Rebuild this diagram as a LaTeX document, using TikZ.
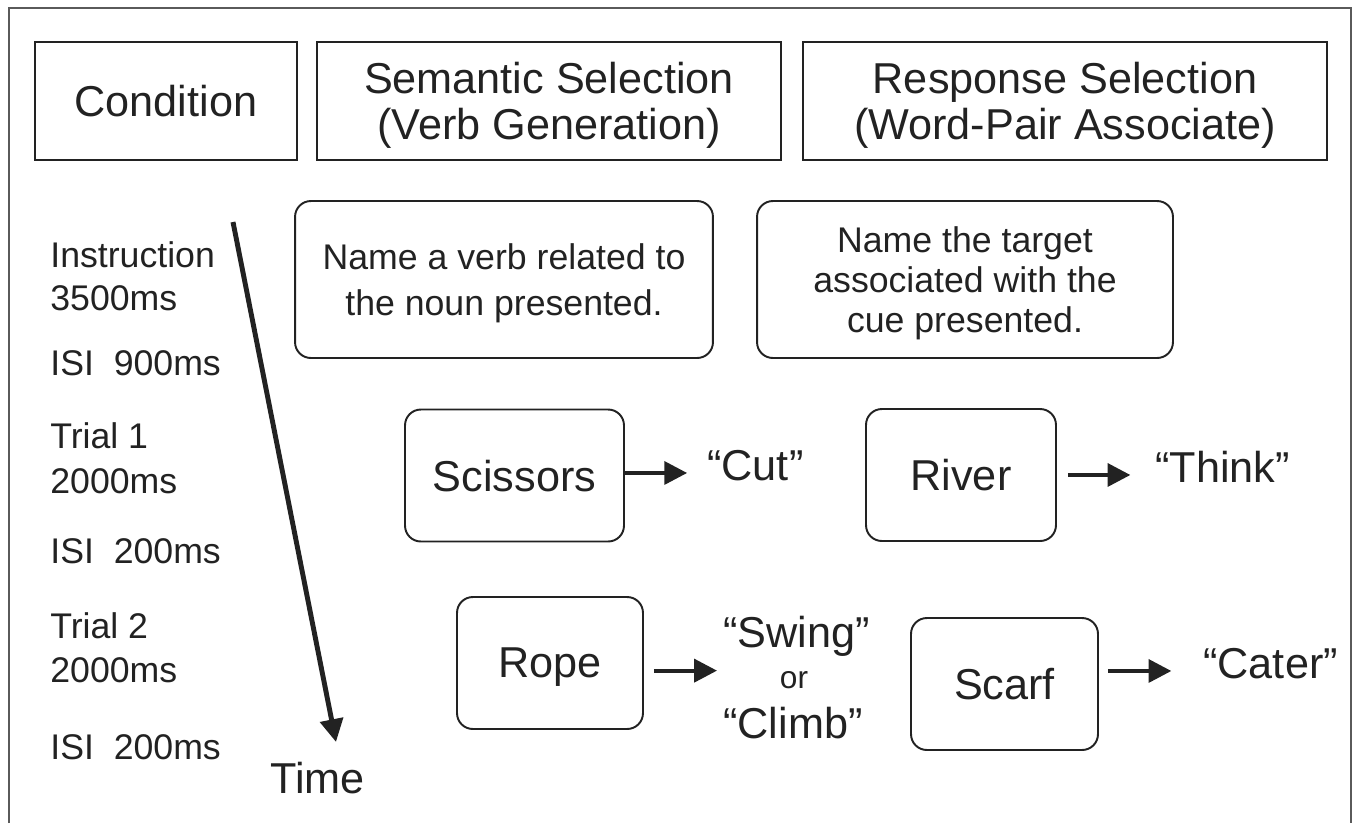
\documentclass[tikz,border=0pt]{standalone}
\usepackage{fontspec}
\setmainfont{Liberation Sans}
\usepackage{tikz}
\usetikzlibrary{arrows.meta}
\definecolor{ink}{HTML}{222222}
\definecolor{framegray}{HTML}{5A5A5A}

\begin{document}
\begin{tikzpicture}[x=0.02cm, y=-0.02cm,
    every node/.style={text=ink},
    bigtxt/.style={font=\fontsize{24.6pt}{26.2pt}\selectfont},
    midtxt/.style={font=\fontsize{20.3pt}{24.8pt}\selectfont},
    headbox/.style={draw=ink, line width=1.1pt, align=center, bigtxt, text depth=0pt, minimum height=2.36cm},
    taskbox/.style={draw=ink, line width=1.1pt, rounded corners=9pt, align=center, text depth=0pt, minimum height=3.14cm},
    wordbox/.style={draw=ink, line width=1.1pt, rounded corners=9pt, bigtxt, text depth=0pt, minimum height=2.64cm},
    reply/.style={bigtxt, inner sep=0pt, anchor=base west, text height=16pt, text depth=8pt},
    flow/.style={draw=ink, line width=2.3pt, -{Triangle[length=13pt, width=13pt]}},
    ]
    \useasboundingbox (0,0) rectangle (1357,823);
    % frame, open at the bottom
    \draw[framegray, line width=1.2pt] (9,823) -- (9,8) -- (1351,8) -- (1351,823);

    % header row
    \node[headbox, minimum width=5.24cm] (cond) at (166,101) {Condition};
    \node[headbox, minimum width=9.28cm] (sem) at (549,101) {Semantic Selection\\(Verb Generation)};
    \node[headbox, minimum width=10.48cm] (resp) at (1065,101) {Response Selection\\(Word-Pair Associate)};

    % timeline on the left
    \foreach \txt/\y [count=\k] in {Instruction/267, 3500ms/310, {ISI\ \ 900ms}/375,
            {Trial 1}/448, 2000ms/493, {ISI\ \ 200ms}/563,
            {Trial 2}/638, 2000ms/682, {ISI\ \ 200ms}/759} {
        \node[midtxt, inner sep=0pt, anchor=base west] (step\k) at (50,\y) {\txt};
    }
    \coordinate (tstart) at (233,222);
    \coordinate (tend) at (336,742);
    \draw[ink, line width=2.8pt, -{Triangle[length=13pt, width=13pt]}] (tstart) -- (tend);
    \node[bigtxt, inner sep=0pt, anchor=base west] (time) at (270,793) {Time};

    % instructions
    \node[taskbox, minimum width=8.36cm, font=\fontsize{20.3pt}{26pt}\selectfont] (instrA) at (504,279.5)
        {Name a verb related to\\the noun presented.};
    \node[taskbox, minimum width=8.32cm, font=\fontsize{20.3pt}{22.7pt}\selectfont] (instrB) at (965,279.5)
        {Name the target\\associated with the\\cue presented.};

    % trials
    \node[wordbox, minimum width=4.38cm] (scissors) at (514.5,475.5) {Scissors};
    \node[wordbox, minimum width=3.8cm] (river) at (961,475) {River};
    \node[wordbox, minimum width=3.72cm] (rope) at (550,663) {Rope};
    \node[wordbox, minimum width=3.74cm] (scarf) at (1004.5,684) {Scarf};

    \node[reply] (cut) at (707,480) {“Cut”};
    \node[reply] (think) at (1155,482) {“Think”};
    \node[reply] (swing) at (723,647) {“Swing”};
    \node[inner sep=0pt, anchor=base, font=\fontsize{18pt}{20pt}\selectfont] (orword) at (794,688) {or};
    \node[reply] (climb) at (723,738) {“Climb”};
    \node[reply] (cater) at (1203,678) {“Cater”};

    \draw[flow, shorten >=11.3pt] (scissors.east |- cut.west) -- (cut.west);
    \draw[flow, shorten <=6.2pt, shorten >=14pt] (river.east |- think.west) -- (think.west);
    \draw[flow, shorten <=5.7pt, shorten >=3.4pt] (rope.east |- orword.north) -- (swing.west |- orword.north);
    \draw[flow, shorten <=5.1pt, shorten >=18pt] (scarf.east |- cater.west) -- (cater.west);
\end{tikzpicture}
\end{document}
